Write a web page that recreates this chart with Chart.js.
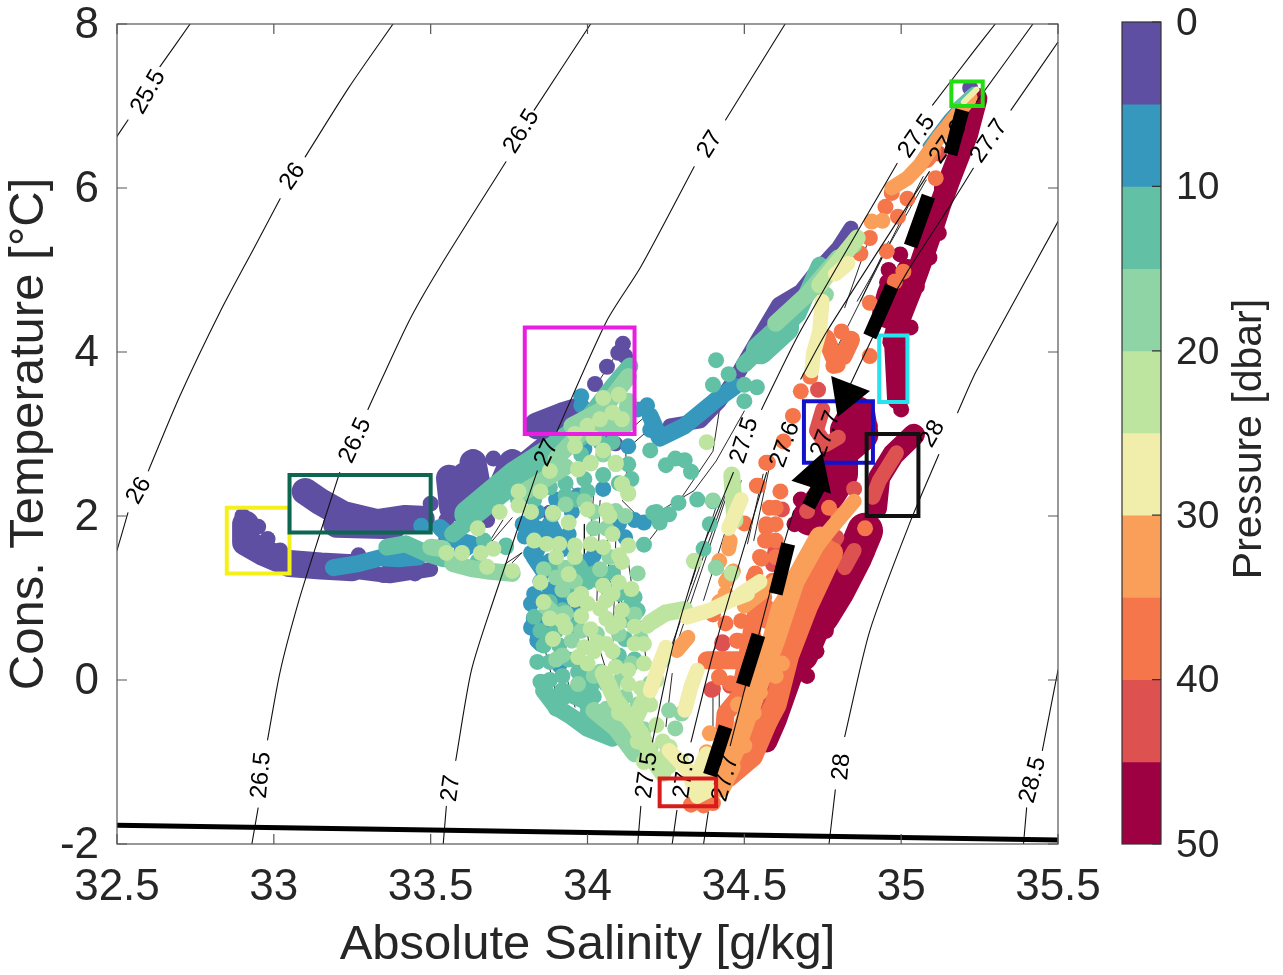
<!DOCTYPE html>
<html><head><meta charset="utf-8">
<style>html,body{margin:0;padding:0;background:#fff}canvas{position:absolute;left:0;top:0}</style>
<script src="https://cdn.jsdelivr.net/npm/chart.js@4"></script></head>
<body><canvas id="main" width="1283" height="975"></canvas><canvas id="bar" width="1283" height="975"></canvas>
<script>
const xTicks=[32.5,33,33.5,34,34.5,35,35.5];
const yTicks=[-2,0,2,4,6,8];
const pressureEdges=[0,5,10,15,20,25,30,35,40,45,50];
const pressureTicks=[0,10,20,30,40,50];
const bandColors=['#5f4fa3','#3598bc','#62c0a5','#8fd4a4','#bde5a0','#f1edab','#f99f5a','#f4764a','#dd5250','#9e0142'];

const freezingLine=[[32.5,-1.77],[33.5,-1.83],[34.5,-1.89],[35.5,-1.95]];

const contour255=[[32.5,6.63],[32.535,6.83],null,[32.637,7.48],[32.733,8]];
const contour26=[[32.5,1.58],[32.535,2.04],null,[32.6,2.55],[32.7,3.46],[32.83,4.5],[32.94,5.29],[33.02,5.87],null,[33.1,6.38],[33.24,7.23],[33.38,8]];
const contour265=[[32.93,-2],[32.95,-1.56],null,[32.98,-.73],[33.02,.1],[33.08,.97],[33.15,1.82],[33.21,2.53],null,[33.3,3.3],[33.43,4.37],[33.53,5.04],[33.74,6.32],null,[33.83,6.95],[34.01,8]];
const contour27=[[33.54,-2],[33.55,-1.54],null,[33.58,-.98],[33.63,.12],[33.7,.97],[33.84,2.55],null,[33.9,3.01],[34.06,4.37],[34.17,5.04],[34.34,6.26],null,[34.44,6.83],[34.63,8]];
const contour275=[[34.16,-2],[34.17,-1.54],null,[34.207,-.755],[34.274,.44],[34.36,1.54],[34.465,2.53],null,[34.555,3.3],[34.678,4.25],[34.987,6.3],null,[35.1,7.01],[35.23,7.66],[35.3,8]];
const contour276=[[34.27,-2],[34.285,-1.59],null,[34.33,-.755],[34.4,.32],[34.486,1.45],[34.571,2.53],null,[34.68,3.67],[34.763,4.25],[35.09,6.2],null,[35.24,7.05],[35.42,8]];
const contour277=[[34.37,-2],[34.385,-1.61],null,[34.455,-.8],[34.58,1.05],[34.657,2.06],null,[34.82,3.46],[34.95,4.5],[35.02,4.98],[35.15,5.75],[35.23,6.24],null,[35.35,6.95],[35.5,7.78]];
const contour28=[[34.77,-2],[34.79,-1.34],null,[34.82,-.69],[34.9,.6],[35.03,1.94],[35.12,2.75],null,[35.18,3.26],[35.24,3.77],[35.5,5.59]];
const contour285=[[35.39,-2],[35.4,-1.56],null,[35.45,-.86],[35.5,.12]];

const contourLabels=[['25.5',32.6,7.17,-60],['26',32.57,2.31,-60],['26',33.06,6.14,-55],['26.5',32.96,-1.16,-85],['26.5',33.26,2.92,-65],['26.5',33.79,6.69,-58],
['27',33.565,-1.32,-82],['27',33.87,2.77,-65],['27',34.39,6.53,-58],['27.5',34.19,-1.16,-82],['27.6',34.31,-1.16,-82],['27.7',34.44,-1.2,-75],
['28',34.81,-1.06,-85],['28.5',35.42,-1.22,-75],['27.5',34.5,2.92,-72],['27.6',34.63,2.87,-70],['27.7',34.76,3,-70],['28',35.1,3,-60],
['27.5',35.05,6.63,-55],['27.6',35.15,6.56,-55],['27.7',35.28,6.57,-55]];

const profileLines=[[33.99,1.9],[33.99,1.5],null,[34.04,2.19],[34.03,.97],null,[34.09,1.7],[34.08,.24],null,[34.1,.97],[34.1,.48],null,[34.13,1.45],[34.16,.65],null,[34.17,.72],[34.19,.16],null,[34.12,2.92],[34.13,2.19],null,[34.11,2.19],[34.16,2],null,[33.93,2.43],[33.97,2.27],null,[33.86,.44],[33.9,-.17],null,[33.93,.08],[33.96,-.33],null,[34.04,.36],[34.08,-.13],null,[34.14,.04],[34.14,-.09],null,[34,.56],[34.01,.32],null,[33.85,.89],[33.87,.48],null,[33.96,2.2],[33.95,1.6],null,[34.02,2.3],[34,1.2],null,[34.06,2.1],[34.07,1.1],null,[34.1,1.5],[34.11,.9],null,[33.93,1.1],[33.97,.5],null,
[34.2,1.72],[34.285,2.14],[34.4,2.79],[34.42,3.28],null,[34.23,2.06],[34.34,2.31],[34.41,2.67],[34.5,3.28],null,[34.27,.44],[34.465,2.53],null,[34.29,.5],[34.46,2.43],null,[34.33,1.17],[34.41,2.11],null,[34.37,.97],[34.49,2.43],null,[34.25,-.57],[34.27,.08],null,[34.34,.04],[34.41,.4],null,[34.4,-.65],[34.4,-.09],null,[34.42,-.65],[34.42,-.13],null,[34.51,1.66],[34.56,2.51],null,[34.53,1.7],[34.58,2.6],null,[34.89,5.3],[34.82,4.54],null,[35.07,6.14],[34.79,4.01],null,[35.08,6.1],[34.86,4.62],null,[34.96,5.35],[34.87,4.62],null,[33.67,1.58],[33.73,1.95],null,[33.67,1.58],[33.76,1.98],null,[33.72,1.37],[33.79,1.55],null,[33.76,1.43],[33.79,1.55],null,[34.02,3.55],[34.11,4.08],null,[34.15,3.1],[34.21,3.3],null,[34.15,2.9],[34.21,3.1]];

const purpleWide=[[32.91,1.9],[32.91,1.68],[32.97,1.55],[33.05,1.42],[33.15,1.39],[33.25,1.37],null,[33.1,2.3],[33.15,2.17],[33.22,2.02],[33.33,1.92],[33.42,1.97],[33.47,1.96],null,[33.2,1.9],[33.38,1.88],null,[33.56,2.46],[33.57,2.1],[33.65,2.1],[33.73,2.38],[33.8,2.6],[33.88,2.85],[33.96,3.02],null,[33.635,2.65],[33.65,2.34],null,[33.76,2.65],[33.73,2.38],null,[33.6,2.2],[33.68,2.3],null,[33.84,3.1],[33.92,3.22],[33.97,3.28]];
const purpleThin=[[33.25,1.33],[33.37,1.27],[33.5,1.35],null,[34.263,3.1],[34.36,3.16],[34.42,3.4],[34.47,3.67],[34.54,4.13],[34.61,4.58],[34.68,4.74],[34.73,4.98],[34.8,5.27],[34.84,5.51],null,[34.02,2.95],[34.09,2.88]];
const purpleDots=[[32.9,2],[32.95,1.87],[32.98,1.72],[33.02,1.58],[33.09,1.45],[33.17,1.43],[33.24,1.44],[33.3,1.42],[33.37,1.41],[33.27,1.52],[33.35,1.28],[33.45,1.3],[33.55,1.72],[33.5,2.15],[33.55,1.95],[33.635,2.72],[33.6,2.55],[33.76,2.72],[33.7,2.7],[33.68,1.95],[34.024,3.61],[34.062,3.82],[34.098,3.99],[34.113,4.1],[33.88,2.04],[34.07,2.92],[34.12,3.95],[34.12,3.75],[35.22,7.22]];

const blueStrokes=[[34.2,3.22],[34.23,2.95],[34.31,3.1],[34.405,3.4],[34.47,3.58],null,[33.19,1.37],[33.27,1.42],[33.34,1.49],[33.4,1.48],[33.46,1.5],null,[33.53,1.86],[33.57,1.72],[33.63,1.66],[33.6,1.58],null,[33.795,1.9],[33.86,1.82],[33.83,1.5],[33.86,1.33],null,[33.88,1.9],[33.92,1.6],null,[33.83,.75],[33.85,.45]];
const blueDots=[[33.97,2.25],[34.05,2.33],[33.94,1.78],[34.02,1.52],[34.12,1.74],[34.06,1.13],[33.96,.81],[33.9,1.01],[33.82,.93],[33.82,.64],[33.84,.48],[33.91,.18],[34.18,1.92],[33.47,1.88],[33.98,3.46],[34.13,2.85],[34.19,3.35],[34.16,3.3],[33.86,.98],[34.2,3.05],[33.98,3.35],[33.99,2.82],
[33.8,1.75],[33.83,1.85],[33.87,1.75],[33.82,1.55],[33.85,1.4],[33.88,1.45],[33.85,1.2],[33.83,1.05],[33.88,1.1],[33.92,1.3],[33.9,.85],[33.93,1],[33.86,.7],[33.98,.95],[34,1.45],[34.03,1.6],[33.95,2.05],[33.9,2.2],[33.84,2.05],[33.82,1.95],[34.1,1.9],[34.15,1.95]];
const blueFine=[[35.08,6.52],[35.145,6.85],[35.22,7.17]];

const tealStrokes=[[33.615,1.98],[33.765,2.46],[33.89,2.76],[34,3.19],[34.08,3.58],[34.135,3.83],null,[33.57,1.78],[33.78,2.42],null,[33.36,1.62],[33.42,1.66],[33.49,1.54],[33.54,1.48],null,[34.54,4],[34.58,4.13],[34.614,4.25],[34.67,4.46],[34.74,5.06],null,[34.5,3.85],[34.54,4],null,[33.86,-.13],[33.9,-.33],[33.95,-.45],[34,-.59],[34.08,-.71],null,[33.92,-.13],[33.99,-.25],[34.04,-.49],null,[33.98,.04],[34.01,-.08],null,[33.97,1.4],[34,1.2],null,[33.78,2.2],[33.86,2.45]];
const tealDots=[[33.99,2.45],[33.85,2.31],[33.93,2.25],[34.13,2.63],[33.98,1.33],[34,1.25],[34.15,1.01],[34.16,.85],[34.13,.73],[34.12,.5],[33.83,.77],[33.85,.6],[33.86,.42],[33.84,.22],[33.88,.22],[33.87,-.15],[33.9,-.35],[33.95,-.45],[34.08,1.31],[34.18,1.65],[34.23,1.92],[34.21,2.04],[33.9,1.41],[33.74,1.64],[33.67,1.7],[33.74,1.62],[33.65,1.45],[34.41,3.9],[34.45,3.73],[34.4,3.6],[34.5,3.6],[34.54,3.57],[34.5,3.4],[34.31,2.68],[34.33,2.54],[34.25,2.62],[34.28,2.7],[34.2,2.8],[34.29,2.16],[34.35,2.2],[34.4,2.18],[34.22,2.05],[34.26,2.02],[34.39,1.9],[34.41,1.37],[34.37,1.6],[33.94,1.18],[33.9,.6],[33.96,.65],
[33.88,.95],[33.92,.85],[33.95,1.05],[33.98,1.15],[34.02,1.3],[34.04,1.2],[34.1,1.05],[34.14,.95],[34.12,.85],[34.1,.3],[34.15,.25],[34.12,.15],[33.88,.55],[33.91,.42],[33.94,.25],[33.97,.1],[33.92,.05],[33.88,0],[33.85,-.02],[33.93,-.2],[33.98,-.1],[34.02,-.2],[34.06,-.05],[34,-.4],[34.05,-.55],[34.1,-.7],[33.83,2.2],[33.88,2.35],[33.93,2.4],[33.96,2.2],[34,2.3],[34.05,2.5],[34.1,2.4],[34.14,2.45],[34.08,2.9],[34.04,2.9],[33.98,2.75]];
const tealWide=[[33.62,2.02],[33.77,2.5],[33.9,2.82],[34,3.1],null,[34.55,4.02],[34.63,4.3]];
const tealFine=[[35.17,7],[35.23,7.2]];

const greenStrokes=[[33.95,3.1],[34.05,3.3],[34.13,3.7],null,[34,3.12],[34.12,3.1],[34.13,3.4],null,[33.9,2.7],[34,3.1],null,[33.57,1.42],[33.63,1.36],[33.68,1.33],[33.76,1.3],null,[34.02,-.37],[34.09,-.59],[34.15,-.9],null,[34.6,4.35],[34.7,4.7],[34.8,5.15],null,[33.5,1.62],[33.54,1.6],null,[33.8,2.3],[33.93,2.6],null,[33.87,.89],[33.9,.77],[33.93,.81]];
const greenDots=[[34.05,2.75],[33.99,2.18],[33.89,2.02],[33.93,2.14],[34.09,2.06],[33.94,1.25],[33.93,1.37],[34.1,.56],[34.03,.56],[33.95,.48],[34.11,.03],[34.04,.1],[34.14,.2],[34.2,-.04],[34.24,.24],[34.26,-.37],[34.3,-.41],[34.28,-.59],[34.34,1.45],[34.4,2.19],[34.41,1.37],[34.02,2.05],[34.15,.8],[34.17,.5],[34.76,4.7],[34.85,5.3],
[33.86,1.35],[33.9,1.25],[33.96,1.2],[33.92,1.1],[34.04,1.35],[34.07,1.5],[34.02,1.85],[34.06,1.85],[34.12,2],[34.16,1.3],[33.98,.6],[33.92,.3],[33.97,-.05],[34.02,.05],[34.08,-.1],[34.12,-.2],[34.16,-.3],[34.06,-.35],[34.13,-.55],[34.18,-.6],[34.2,-.85],[33.9,.25]];

const lightStrokes=[[34.05,.08],[34.09,-.25],[34.17,-.65],[34.21,-.98],[34.24,-1.14],null,[34.19,-.17],[34.15,-.49],null,[34.26,-.82],[34.24,-1.14],null,[34.25,.82],[34.31,.86],null,[34.2,.7],[34.25,.82],null,[34.47,1.95],[34.46,2.5],null,[34.74,4.82],[34.86,5.39]];
const lightDots=[[33.96,2.85],[34.01,2.65],[33.97,2.57],[34.09,2.65],[34.11,2.39],[34.13,2.27],[34.07,2],[34,2.08],[33.94,1.92],[33.83,1.7],[33.87,1.66],[33.91,1.66],[33.96,1.64],[34.01,1.66],[34.05,1.62],[34.08,1.78],[34.13,1.64],[33.96,1.5],[34.1,1.52],[34.11,1.44],[33.85,1.19],[33.94,1.29],[33.96,.98],[34,.93],[34.04,.87],[34.06,.97],[34.11,.85],[34.14,1.11],[34.1,1.19],[33.86,.95],[33.89,.5],[33.93,.64],[34.01,.62],[34.03,.46],[34.06,.44],[33.97,.28],[34,.2],[34.15,.44],[34.18,.44],[34.19,.66],[34.09,.16],[34.13,.12],[34.05,.08],[34,3.1],[34.04,3.18],[34.08,3.26],[34.11,3.18],[34.05,3.44],[34.1,3.48],[33.97,2.57],[34.01,2.64],[34.09,2.63],[34.11,2.39],[34.13,2.28],[33.89,2.04],[34.06,2.07],[33.78,2.13],[33.85,2.3],[33.66,1.55],[33.68,1.38],[33.76,1.33],[34.34,1.45],[34.38,2.9],[34.46,1.3],[33.98,1.05],[34.08,.65],
[33.9,1.5],[33.88,.75],[33.92,.72],[33.98,.78],[34.06,.75],[34.1,.7],[34.15,.65],[34.05,1.15],[34.08,1.05],[34.18,.2],[34.02,.35],[33.99,.4],[34.08,.35],[34.13,-.05],[34.17,-.1],[34.1,-.4],[34.16,-.75],[34.22,-.55],[34.2,-.3],[34.24,-.75],[34.26,-1.05],[34.22,-1],[34.18,-1],[34.28,-.95],[34.3,-1],[34.22,0],[34.05,2.8],[34.02,2.95],[33.96,3],[33.88,2.55],[33.82,2.05],[33.78,2.3],[33.72,2.05],[33.65,1.85],[33.7,1.6],[33.6,1.55],[33.55,1.55]];

const paleStrokes=[[34.316,.765],[34.39,.85],[34.455,.97],[34.51,1.05],null,[34.25,.4],[34.23,.2],[34.2,-.13],null,[34.35,.12],[34.33,-.08],[34.31,-.37],null,[34.26,-.86],[34.32,-1.1],[34.35,-1.42],[34.39,-1.34],[34.36,-1.06],[34.38,-.9],null,[34.748,4.62],[34.74,4.25],[34.72,3.98],[34.715,3.77],null,[34.83,5.08],[34.79,4.95],null,[34.49,1.05],[34.55,1.2],null,[34.45,1.85],[34.49,2.2]];
const paleFine=[[35.2,7.05],[35.24,7.2]];

const orangeWide=[[34.42,-1.3],[34.48,-.75],[34.54,-.1],[34.6,.5],[34.66,1.2],[34.74,1.75]];
const orangeStrokes=[[34.85,2.18],[34.77,1.82],[34.72,1.58],[34.67,1.25],[34.61,.89],[34.58,.48],[34.57,.24],[34.54,-.13],[34.52,-.41],[34.475,-.77],[34.42,-1.06],null,[34.465,-1.06],[34.43,-1.34],null,[34.285,.36],[34.32,.52],null,[34.44,1.2],[34.465,1.33],null,[34.5,.9],[34.6,1.2],null,[34.97,6],[35.02,6.12],[35.06,6.28],[35.12,6.62],[35.22,7.1],null,[34.45,1.6],[34.455,1.7]];
const orangeDots=[[34.53,.16],[34.56,.05],[34.52,-.2],[34.55,-.15],[34.53,-.4],[34.5,-.5],[34.42,1.45],[34.39,-.65],[34.38,-.88],[34.906,5.59],[34.94,5.6],[34.44,1.05],[34.42,.95],[34.62,.2],[34.6,.05],[34.46,-.75],[34.5,-.8],[34.48,-.3]];

const dkOrangeWide=[[34.53,-.8],[34.6,-.3],[34.64,.3],[34.7,.9],[34.78,1.55]];
const dkOrangeStrokes=[[34.77,1.6],[34.72,1.33],[34.66,1.01],[34.635,.68],[34.614,.4],[34.61,-.21],[34.58,-.49],[34.53,-.94],[34.45,-1.2],null,[34.56,1.01],[34.53,.72],[34.485,-.2],[34.44,-.41],[34.43,-.9],null,[34.43,.24],[34.48,.24],null,[34.38,.24],[34.43,.24],null,[34.84,4.15],[34.816,3.95],null,[34.76,4.17],[34.795,3.85],null,[35.08,6.35],[35.1,6.45]];
const dkOrangeDots=[[34.54,2.37],[34.5,1.91],[34.57,2.65],[34.57,1.7],[34.76,4.17],[34.84,4.13],[34.71,3.7],[34.68,3.52],[34.655,3.22],[34.625,2.91],[34.575,2.65],[34.545,2.37],[34.615,2.3],[34.6,2.1],[34.57,1.86],[34.566,1.7],[34.555,1.48],[34.535,1.3],[34.476,.48],[34.42,.03],[34.9,3.95],[35.09,6.38],[35.11,6.12],[34.97,5.94],[34.95,5.77],[34.9,5.39],[34.87,5.2],[34.99,5.65],[35.02,5.87],[34.954,5.23],[34.9,4.6],[35.007,4.98],[34.98,4.86],[34.81,4.25],[34.784,3.83],[34.763,4.17],[34.48,.48],[34.455,-.04],[34.4,.8],[34.44,.69],[34.53,.72],[34.57,.89],[34.59,1.21],[34.6,1.9],[34.49,-.17],[34.885,1.85],[34.8,2],[34.77,2.1],
[34.57,1.9],[34.6,1.7],[34.58,2.1],[34.55,1.5],[34.6,1.5],[34.53,1.25],[34.56,.97],[34.51,.93],[34.57,.72],[34.49,.72],[34.53,.52],[34.41,.24],[34.465,.24],[34.42,.04],[34.33,-1.52],[34.37,-1.53],[34.4,-1.5]];

const redStrokes=[[34.795,1.74],[34.66,1.01],null,[34.645,.24],[34.6,-.08],[34.57,-.41],null,[34.75,3.3],[34.73,3.04],[34.76,2.87],[34.8,2.96],null,[34.985,2.77],[34.93,2.43],[34.91,2.23],null,[34.82,1.37],[34.85,1.58],null,[34.6,1.62],[34.59,1.41]];
const redDots=[[34.7,2.06],[34.85,2.33],[34.735,3.54],[34.62,2.08],[34.43,.46],[34.4,-.11],[34.455,-.07],[34.395,-.12],[34.43,.44],[35.12,6.42]];

const crimsonWide=[[34.83,3.04],[34.86,3.24],[34.87,3],[34.805,2.79],[34.805,2.51],[34.75,2.18],[34.71,1.98],null,[34.885,1.82],[34.85,1.5],[34.795,1.09],[34.75,.81],[34.71,.6],[34.68,.32],null,[34.965,4.5],[34.98,4.7]];
const crimsonStrokes=[[34.98,4.15],[34.99,3.43],null,[35.24,7.09],[35.21,6.65],[35.156,6.12],[35.124,5.79],[35.09,5.39],[35.06,5.06],[35.03,4.74],[34.997,4.42],[34.975,4.13],null,[34.975,4.58],[35.02,5],null,[35.04,2.99],[34.975,2.75],[34.93,2.47],[34.92,2.1],null,[34.6,-.49],[34.57,-.75],null,[34.65,.05],[34.6,-.49]];
const crimsonDots=[[35.18,6.38],[35.13,6],[35.1,5.65],[35.12,5.45],[35.09,5.15],[35.05,4.8],[34.997,5.19],[34.96,5],[34.955,4.85],[35.03,4.3],[35,3.3],[34.9,3.1],[35.05,3],[34.56,-.77],[34.54,-.85],[34.7,.05],[34.89,1.55],[34.83,1.15],[34.76,.6],[34.73,.35],[34.66,1.9],[34.68,2.2],[34.78,2.05]];

const bigDashes=[[35.195,6.95],[35.157,6.41],null,[35.087,5.9],[35.03,5.29],null,[34.97,4.8],[34.9,4.19],null,[34.735,2.34],[34.705,2.12],null,[34.64,1.66],[34.6,1.05],null,[34.545,.55],[34.495,-.06],null,[34.44,-.57],[34.39,-1.16]];
const arrowDown=[[34.825,3.48]];
const arrowUp=[[34.725,2.49]];

const boxYellow=[32.85,1.3,33.05,2.1];
const boxDarkGreen=[33.05,1.8,33.5,2.5];
const boxMagenta=[33.8,3,34.15,4.3];
const boxRed=[34.23,-1.54,34.41,-1.2];
const boxGreen=[35.16,7,35.26,7.3];
const boxBlue=[34.69,2.65,34.91,3.4];
const boxCyan=[34.93,3.39,35.02,4.2];
const boxBlack=[34.89,2,35.055,3];

const xy=a=>a.map(p=>p?{x:p[0],y:p[1]}:{x:null,y:null});
const line=(a,color,w,extra)=>Object.assign({data:xy(a),showLine:true,spanGaps:false,borderColor:color,borderWidth:w,pointRadius:0,borderCapStyle:'round',borderJoinStyle:'round',fill:false,tension:0},extra||{});
const dots=(a,color)=>({data:xy(a),showLine:false,pointRadius:8,pointBackgroundColor:color,pointBorderWidth:0,borderWidth:0});
const rect=(b,color)=>line([[b[0],b[1]],[b[2],b[1]],[b[2],b[3]],[b[0],b[3]],[b[0],b[1]]],color,4,{borderCapStyle:'square',borderJoinStyle:'miter'});
const [cPurple,cBlue,cTeal,cGreen,cLight,cPale,cOrange,cDk,cRed,cCrimson]=bandColors;
const contourAll=[contour255,contour26,contour265,contour27,contour275,contour276,contour277,contour28,contour285].flatMap(c=>[...c,null]);

const layers=[
 line(profileLines,'#111',0.9),
 line(crimsonWide,cCrimson,36),line(crimsonStrokes,cCrimson,22),dots(crimsonDots,cCrimson),
 line(purpleWide,cPurple,27),line(purpleThin,cPurple,15),dots(purpleDots,cPurple),
 line(blueStrokes,cBlue,17),dots(blueDots,cBlue),line(blueFine,cBlue,7),
 line(redStrokes,cRed,15),dots(redDots,cRed),
 line(dkOrangeWide,cDk,22),line(dkOrangeStrokes,cDk,18),dots(dkOrangeDots,cDk),
 line(orangeWide,cOrange,20),line(orangeStrokes,cOrange,15),dots(orangeDots,cOrange),
 line(tealWide,cTeal,28),line(tealStrokes,cTeal,17),dots(tealDots,cTeal),line(tealFine,cTeal,6),
 line(greenStrokes,cGreen,17),dots(greenDots,cGreen),
 line(lightStrokes,cLight,17),dots(lightDots,cLight),
 line(paleStrokes,cPale,15),line(paleFine,cPale,6),
 line(contourAll,'#111',1.1,{tension:0.25}),
 line(freezingLine,'#000',5,{borderCapStyle:'butt'}),
];
const labelAfter=layers.length-1;
layers.push(rect(boxYellow,'#f6f01a'),rect(boxDarkGreen,'#0d6650'),rect(boxMagenta,'#e81fe0'),rect(boxRed,'#d81c1c'),rect(boxGreen,'#22dd12'),rect(boxBlue,'#1212cc'),rect(boxCyan,'#25e4ee'),rect(boxBlack,'#111'));
layers.push(line(bigDashes,'#000',14,{borderCapStyle:'butt'}));
layers.push({data:xy(arrowDown),showLine:false,pointStyle:'triangle',pointRadius:24,pointRotation:201,pointBackgroundColor:'#000',pointBorderWidth:0});
layers.push({data:xy(arrowUp),showLine:false,pointStyle:'triangle',pointRadius:24,pointRotation:18,pointBackgroundColor:'#000',pointBorderWidth:0});
layers.forEach((d,i)=>{d.order=layers.length-i;});

const sans='"Liberation Sans",Arial,sans-serif';
const ink='#262626';
const noPad=s=>{s.paddingLeft=0;s.paddingRight=0;s.paddingTop=0;s.paddingBottom=0;};

const framePlugin={id:'frame',
 afterDatasetDraw(chart,args){
  if(args.index!==labelAfter)return;
  const c=chart.ctx,sx=chart.scales.x,sy=chart.scales.y;
  c.save();c.fillStyle='#000';c.font='24px '+sans;c.textAlign='center';c.textBaseline='middle';
  contourLabels.forEach(l=>{c.save();c.translate(sx.getPixelForValue(l[1]),sy.getPixelForValue(l[2]));c.rotate(l[3]*Math.PI/180);c.fillText(l[0],0,0);c.restore();});
  c.restore();
 },
 afterDraw(chart){
  const c=chart.ctx,a=chart.chartArea,sx=chart.scales.x,sy=chart.scales.y;
  c.save();c.strokeStyle='#555';c.lineWidth=1.2;c.strokeRect(a.left,a.top,a.right-a.left,a.bottom-a.top);
  c.beginPath();
  xTicks.forEach(t=>{const p=sx.getPixelForValue(t);c.moveTo(p,a.bottom);c.lineTo(p,a.bottom-10);c.moveTo(p,a.top);c.lineTo(p,a.top+10);});
  yTicks.forEach(t=>{const p=sy.getPixelForValue(t);c.moveTo(a.left,p);c.lineTo(a.left+10,p);c.moveTo(a.right,p);c.lineTo(a.right-10,p);});
  c.stroke();c.restore();
 }};

new Chart(document.getElementById('main'),{type:'scatter',data:{datasets:layers},plugins:[framePlugin],
 options:{responsive:false,animation:false,events:[],devicePixelRatio:1,
  layout:{padding:{top:22,right:225,left:0,bottom:0}},
  plugins:{legend:{display:false},tooltip:{enabled:false}},
  scales:{
   x:{type:'linear',min:32.5,max:35.5,afterFit(s){s.height=131;noPad(s);},afterBuildTicks(s){s.ticks=xTicks.map(v=>({value:v}));},
     grid:{display:false},border:{display:false},
     ticks:{autoSkip:false,maxRotation:0,font:{size:44,family:sans},color:ink,padding:9,callback:v=>String(v)},
     title:{display:true,text:'Absolute Salinity [g/kg]',font:{size:49,family:sans},color:ink,padding:{top:0,bottom:0}}},
   y:{type:'linear',min:-2,max:8,afterFit(s){s.width=117;noPad(s);},afterBuildTicks(s){s.ticks=yTicks.map(v=>({value:v}));},
     grid:{display:false},border:{display:false},
     ticks:{autoSkip:false,font:{size:44,family:sans},color:ink,padding:10,labelOffset:2,callback:v=>String(v)},
     title:{display:true,text:'Cons. Temperature [°C]',font:{size:49,family:sans},color:ink,padding:{top:0,bottom:0}}}
  }}});

const barPlugin={id:'cbar',
 afterDraw(chart){
  const c=chart.ctx,a=chart.chartArea,sy=chart.scales.y;
  c.save();c.strokeStyle='#333';c.lineWidth=1.2;c.strokeRect(a.left,a.top,a.right-a.left,a.bottom-a.top);
  c.beginPath();pressureTicks.forEach(t=>{const p=sy.getPixelForValue(t);c.moveTo(a.right,p);c.lineTo(a.right-9,p);});c.stroke();
  c.translate(1250,(a.top+a.bottom)/2+6);c.rotate(-Math.PI/2);c.fillStyle=ink;c.font='41px '+sans;c.textAlign='center';c.textBaseline='middle';
  c.fillText('Pressure [dbar]',0,0);c.restore();
 }};
new Chart(document.getElementById('bar'),{type:'bar',
 data:{labels:['P'],datasets:bandColors.map((col,i)=>({data:[[pressureEdges[i],pressureEdges[i+1]]],backgroundColor:col,barPercentage:1,categoryPercentage:1,borderWidth:0,grouped:false}))},
 plugins:[barPlugin],
 options:{responsive:false,animation:false,events:[],devicePixelRatio:1,
  layout:{padding:{top:22,left:1122,right:0,bottom:131}},
  plugins:{legend:{display:false},tooltip:{enabled:false}},
  scales:{x:{display:false},
   y:{position:'right',reverse:true,min:0,max:50,afterFit(s){s.width=122;noPad(s);},afterBuildTicks(s){s.ticks=pressureTicks.map(v=>({value:v}));},
    grid:{display:false},border:{display:false},
    ticks:{font:{size:39,family:sans},color:ink,padding:7,labelOffset:2,callback:v=>String(v)}}}}});
</script></body></html>
